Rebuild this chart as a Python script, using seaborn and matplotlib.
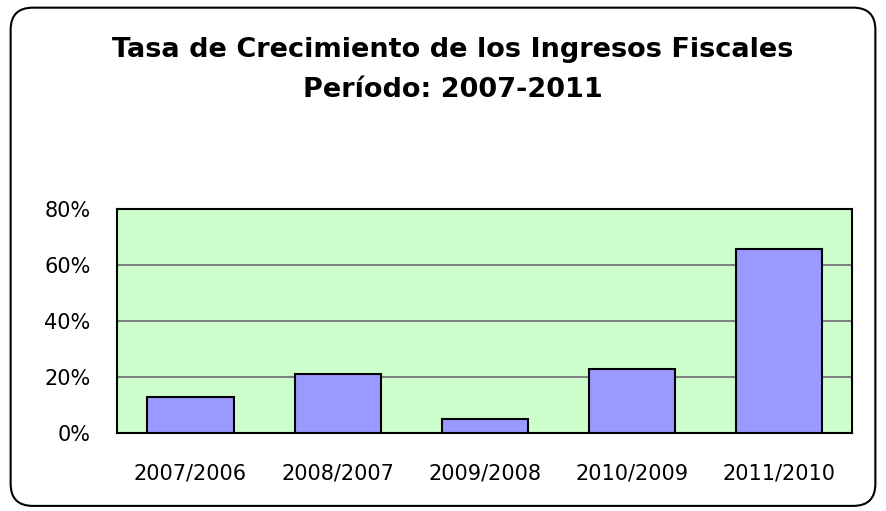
import pandas as pd
import matplotlib.pyplot as plt
import seaborn as sns
from matplotlib.patches import FancyBboxPatch
from matplotlib.ticker import PercentFormatter

periodos = ['2007/2006', '2008/2007', '2009/2008', '2010/2009', '2011/2010']
tasas = [12.9, 20.9, 5.0, 22.8, 65.7]

df = pd.DataFrame({'Periodo': periodos, 'Tasa': tasas})

sns.set_style('white')
plt.rcParams['font.family'] = ['DejaVu Sans']
plt.rcParams['text.color'] = 'black'
plt.rcParams['xtick.color'] = 'black'
plt.rcParams['ytick.color'] = 'black'

fig = plt.figure(figsize=(8.86, 5.11), dpi=100)

# marco redondeado
marco = FancyBboxPatch((0.012, 0.01), 0.976, 0.975, boxstyle='round,pad=0,rounding_size=0.025',
                       transform=fig.transFigure, facecolor='white', edgecolor='black',
                       linewidth=1.5, mutation_aspect=886 / 511, zorder=-5)
fig.patches.append(marco)

ax = fig.add_axes([0.132, 0.153, 0.830, 0.438])
ax.set_zorder(2)
ax.set_facecolor('#CCFFCC')
sns.barplot(data=df, x='Periodo', y='Tasa', color='#9999FF', edgecolor='black',
            linewidth=1.5, width=0.585, saturation=1, ax=ax, zorder=3)

ax.set_ylim(0, 80)
ax.set_yticks([0, 20, 40, 60, 80])
ax.yaxis.set_major_formatter(PercentFormatter(decimals=0))
ax.grid(axis='y', color='#808080', linewidth=1.5, zorder=0)
ax.set_axisbelow(True)
for s in ax.spines.values():
    s.set_color('black')
    s.set_linewidth(1.5)
ax.set_xlabel('')
ax.set_ylabel('')
ax.tick_params(axis='both', labelsize=15, length=0)
ax.tick_params(axis='x', pad=22)
ax.tick_params(axis='y', pad=19)

fig.text(0.511, 0.888, 'Tasa de Crecimiento de los Ingresos Fiscales', ha='center', va='baseline',
         fontsize=19.5, fontweight='bold')
fig.text(0.511, 0.811, 'Período: 2007-2011', ha='center', va='baseline',
         fontsize=19.5, fontweight='bold')

plt.savefig('out.png', dpi=100)
